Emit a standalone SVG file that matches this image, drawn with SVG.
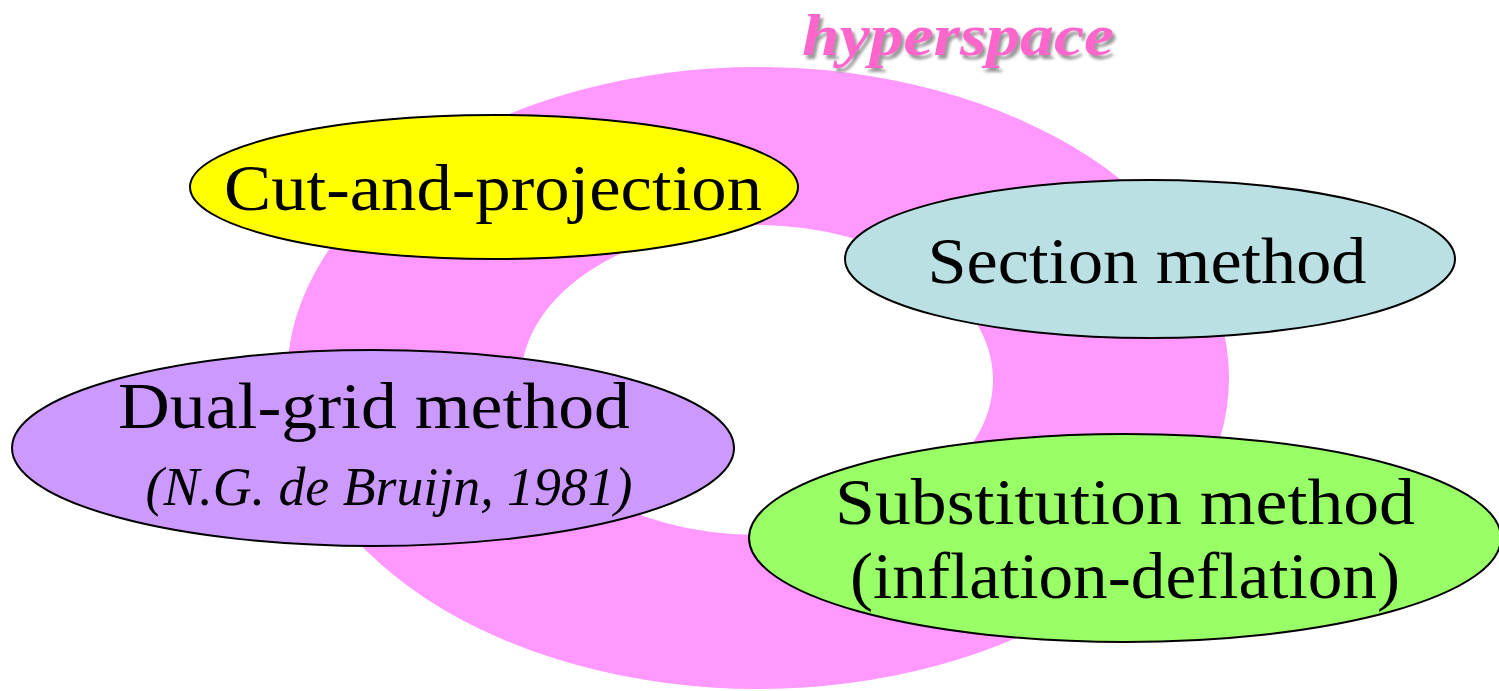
<svg xmlns="http://www.w3.org/2000/svg" width="1499" height="691" viewBox="0 0 1499 691">
<style>
.node{stroke:#000;stroke-width:2}
.t{font-family:"Liberation Serif","DejaVu Serif",serif;font-size:66px;fill:#000;text-anchor:middle}
.it{font-style:italic;font-size:54px}
</style>
<defs>
<filter id="sh" x="-10%" y="-30%" width="120%" height="160%">
<feGaussianBlur in="SourceAlpha" stdDeviation="1.5"/>
<feOffset dx="3" dy="4" result="b"/>
<feFlood flood-color="#999"/>
<feComposite in2="b" operator="in"/>
<feMerge><feMergeNode/><feMergeNode in="SourceGraphic"/></feMerge>
</filter>
</defs>
<rect width="1499" height="691" fill="#fff"/>
<g id="ring">
<path fill="#FF99FF" fill-rule="evenodd" d="M287,378 a471,311 0 1,0 942,0 a471,311 0 1,0 -942,0 Z M521,380 a236,155 0 1,0 472,0 a236,155 0 1,0 -472,0 Z"/>
</g>
<g id="label-hyperspace">
<text x="958" y="55" filter="url(#sh)" style="font-family:'Liberation Serif','DejaVu Serif',serif;font-size:60px;font-weight:bold;font-style:italic;fill:#FF66CC;text-anchor:middle" textLength="312" lengthAdjust="spacingAndGlyphs">hyperspace</text>
</g>
<g id="connectors"></g>
<g id="node-cut">
<ellipse class="node" cx="494" cy="187" rx="304" ry="72" fill="#FFFF00"/>
<text class="t" x="493" y="210" textLength="538" lengthAdjust="spacingAndGlyphs">Cut-and-projection</text>
</g>
<g id="node-section">
<ellipse class="node" cx="1150" cy="259" rx="305" ry="79" fill="#BBE0E3"/>
<text class="t" x="1147" y="283" textLength="439" lengthAdjust="spacingAndGlyphs">Section method</text>
</g>
<g id="node-dual">
<ellipse class="node" cx="373" cy="448" rx="361" ry="98" fill="#CC99FF"/>
<text class="t" x="374" y="428" textLength="512" lengthAdjust="spacingAndGlyphs">Dual-grid method</text>
<text class="t it" x="389" y="505" textLength="487" lengthAdjust="spacingAndGlyphs">(N.G. de Bruijn, 1981)</text>
</g>
<g id="node-substitution">
<ellipse class="node" cx="1125" cy="538" rx="376" ry="104" fill="#99FF66"/>
<text class="t" x="1125" y="524" textLength="580" lengthAdjust="spacingAndGlyphs">Substitution method</text>
<text class="t" x="1125" y="598" textLength="550" lengthAdjust="spacingAndGlyphs">(inflation-deflation)</text>
</g>
</svg>
